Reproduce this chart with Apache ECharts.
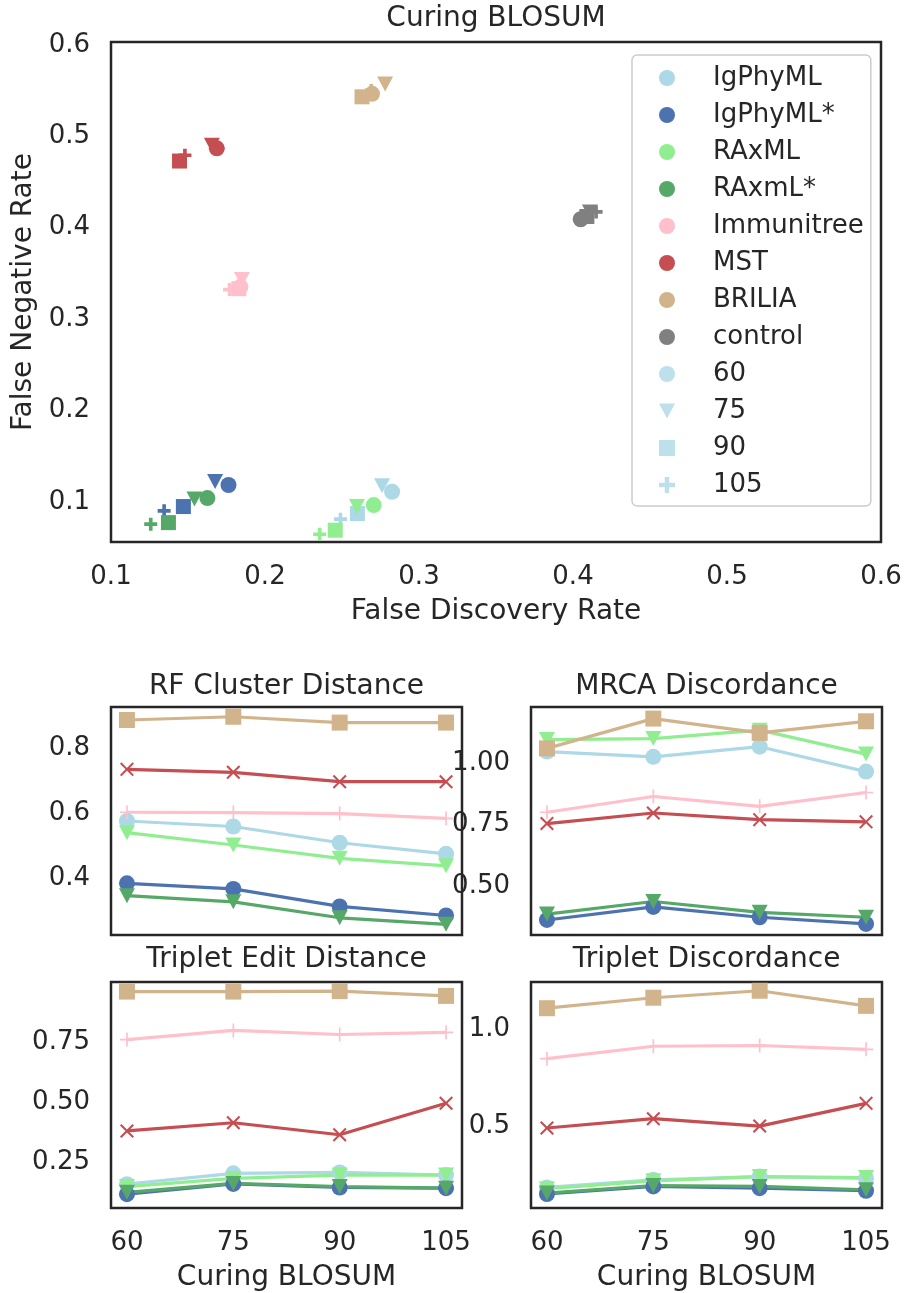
<!DOCTYPE html>
<html><head><meta charset="utf-8">
<script src="https://cdn.jsdelivr.net/npm/echarts@6/dist/echarts.min.js"></script>
<style>html,body{margin:0;padding:0;background:#fff}#c{width:907px;height:1293px}</style>
</head><body><div id="c"></div>
<script>
// ---------- data ----------
const methods = ['IgPhyML', 'IgPhyML*', 'RAxML', 'RAxmL*', 'Immunitree', 'MST', 'BRILIA', 'control'];
const colors = ['#add8e6', '#4c72b0', '#90ee90', '#55a868', '#ffc0cb', '#c44e52', '#d2b48c', '#808080'];
const curing = [60, 75, 90, 105];
const curingLabels = ['60', '75', '90', '105'];

// scatter: false discovery rate / false negative rate, one value per method
const fdr60  = [0.2825, 0.1763, 0.2706, 0.1626, 0.184, 0.1687, 0.2695, 0.405];
const fnr60  = [0.1077, 0.1151, 0.0931, 0.1008, 0.332, 0.4836, 0.5433, 0.406];
const fdr75  = [0.276, 0.1676, 0.2597, 0.1542, 0.185, 0.1655, 0.278, 0.411];
const fnr75  = [0.1143, 0.119, 0.0915, 0.0997, 0.340, 0.487, 0.554, 0.414];
const fdr90  = [0.260, 0.147, 0.2456, 0.1373, 0.183, 0.1445, 0.263, 0.409];
const fnr90  = [0.0838, 0.0915, 0.0656, 0.0739, 0.330, 0.4697, 0.540, 0.409];
const fdr105 = [0.249, 0.1345, 0.2355, 0.1258, 0.177, 0.148, 0.269, 0.415];
const fnr105 = [0.0777, 0.0868, 0.0612, 0.0722, 0.329, 0.476, 0.547, 0.414];

// small panels: rows = IgPhyML, IgPhyML*, RAxML, RAxmL*, Immunitree, MST, BRILIA
const rfCluster = [
  [0.566, 0.549, 0.499, 0.465],
  [0.374, 0.357, 0.303, 0.275],
  [0.530, 0.492, 0.451, 0.428],
  [0.336, 0.317, 0.268, 0.248],
  [0.593, 0.592, 0.589, 0.574],
  [0.725, 0.716, 0.687, 0.687],
  [0.877, 0.887, 0.869, 0.869]
];
const mrcaDiscordance = [
  [1.034, 1.013, 1.054, 0.953],
  [0.351, 0.404, 0.362, 0.335],
  [1.083, 1.087, 1.121, 1.024],
  [0.375, 0.426, 0.382, 0.362],
  [0.788, 0.852, 0.812, 0.868],
  [0.742, 0.785, 0.758, 0.749],
  [1.047, 1.168, 1.110, 1.157]
];
const tripletEdit = [
  [0.147, 0.192, 0.196, 0.185],
  [0.105, 0.148, 0.133, 0.130],
  [0.137, 0.171, 0.185, 0.185],
  [0.113, 0.150, 0.137, 0.130],
  [0.750, 0.788, 0.771, 0.780],
  [0.369, 0.403, 0.353, 0.484],
  [0.950, 0.950, 0.952, 0.932]
];
const tripletDiscordance = [
  [0.172, 0.211, 0.228, 0.219],
  [0.138, 0.177, 0.168, 0.155],
  [0.165, 0.206, 0.228, 0.223],
  [0.143, 0.182, 0.177, 0.160],
  [0.835, 0.899, 0.903, 0.883],
  [0.478, 0.526, 0.488, 0.605],
  [1.095, 1.149, 1.185, 1.107]
];

const mainXTicks = [0.1, 0.2, 0.3, 0.4, 0.5, 0.6];
const mainYTicks = [0.1, 0.2, 0.3, 0.4, 0.5, 0.6];
const rfTicks = [0.4, 0.6, 0.8];
const mrcaTicks = [0.5, 0.75, 1.0];
const tedTicks = [0.25, 0.5, 0.75];
const tdTicks = [0.5, 1.0];

// ---------- styles ----------
const FONT = 'DejaVu Sans';
const TXT = '#262626';
const TRI = 'path://M0,0L10,0L5,9.4Z';
const PLUS_THICK = 'path://M3.6,0H6.4V3.6H10V6.4H6.4V10H3.6V6.4H0V3.6H3.6Z';
const PLUS_THIN = 'path://M4.4,0H5.6V4.4H10V5.6H5.6V10H4.4V5.6H0V4.4H4.4Z';
const a = 1.05;
const CROSS = 'path://M' + a + ',0L5,' + (5 - a) + 'L' + (10 - a) + ',0L10,' + a + 'L' + (5 + a) + ',5L10,' + (10 - a) +
  'L' + (10 - a) + ',10L5,' + (5 + a) + 'L' + a + ',10L0,' + (10 - a) + 'L' + (5 - a) + ',5L0,' + a + 'Z';

const lineSymbols = ['circle', 'circle', TRI, TRI, PLUS_THIN, CROSS, 'rect'];
const lineSizes = [16, 16, [16, 15], [16, 15], 14, 14, 16];

const series = [];
methods.forEach((m, i) => {
  series.push({
    type: 'scatter', name: m, xAxisIndex: 0, yAxisIndex: 0,
    itemStyle: { color: colors[i], opacity: 1 },
    data: [
      { value: [fdr60[i], fnr60[i]], symbol: 'circle', symbolSize: 16 },
      { value: [fdr75[i], fnr75[i]], symbol: TRI, symbolSize: [16, 15] },
      { value: [fdr90[i], fnr90[i]], symbol: 'rect', symbolSize: 15 },
      { value: [fdr105[i], fnr105[i]], symbol: PLUS_THICK, symbolSize: 13 }
    ]
  });
});
curingLabels.forEach(c => {
  series.push({ type: 'scatter', name: c, xAxisIndex: 0, yAxisIndex: 0, data: [], itemStyle: { color: '#add8e6' } });
});

const panels = [rfCluster, mrcaDiscordance, tripletEdit, tripletDiscordance];
panels.forEach((tbl, p) => {
  tbl.forEach((vals, i) => {
    series.push({
      type: 'line', name: 'p' + p + '-' + methods[i], xAxisIndex: p + 1, yAxisIndex: p + 1,
      data: curing.map((x, k) => [x, vals[k]]),
      symbol: lineSymbols[i], symbolSize: lineSizes[i], showSymbol: true,
      lineStyle: { width: 3.2, color: colors[i] },
      itemStyle: { color: colors[i], borderWidth: 0 },
      emphasis: { disabled: true }
    });
  });
});

const gridBase = { show: true, borderColor: TXT, borderWidth: 2.5, backgroundColor: 'transparent' };
const grids = [
  Object.assign({ left: 111, top: 42, width: 770, height: 500 }, gridBase),
  Object.assign({ left: 111, top: 707, width: 351, height: 228 }, gridBase),
  Object.assign({ left: 531, top: 707, width: 351, height: 228 }, gridBase),
  Object.assign({ left: 111, top: 982, width: 351, height: 227 }, gridBase),
  Object.assign({ left: 531, top: 982, width: 351, height: 227 }, gridBase)
];

const lbl = (extra) => Object.assign({ color: TXT, fontSize: 26, fontFamily: FONT }, extra);
const nameStyle = { color: TXT, fontSize: 28, fontFamily: FONT };
const yRich = { t: { color: TXT, fontSize: 26, fontFamily: FONT, padding: [6, 0, 0, 0] } };

const xAxes = [
  { type: 'value', gridIndex: 0, min: 0.1, max: 0.6, interval: 0.1,
    axisLine: { show: false }, axisTick: { show: false }, splitLine: { show: false },
    axisLabel: lbl({ margin: 22, formatter: v => v.toFixed(1) }),
    name: 'False Discovery Rate', nameLocation: 'middle', nameGap: 56, nameTextStyle: nameStyle }
];
for (let p = 0; p < 4; p++) {
  const bottom = p >= 2;
  xAxes.push({
    type: 'value', gridIndex: p + 1, min: 57.75, max: 107.25,
    axisLine: { show: false }, axisTick: { show: false }, splitLine: { show: false },
    axisLabel: lbl({ show: bottom, margin: 22, customValues: curing, formatter: v => String(v) }),
    name: bottom ? 'Curing BLOSUM' : '', nameLocation: 'middle', nameGap: 56, nameTextStyle: nameStyle
  });
}
const yAxes = [
  { type: 'value', gridIndex: 0, min: 0.0527, max: 0.6,
    axisLine: { show: false }, axisTick: { show: false }, splitLine: { show: false },
    axisLabel: lbl({ margin: 21, customValues: mainYTicks, formatter: v => '{t|' + v.toFixed(1) + '}', rich: yRich }),
    name: 'False Negative Rate', nameLocation: 'middle', nameGap: 61, nameTextStyle: nameStyle }
];
const yRanges = [[0.215, 0.917], [0.290, 1.215], [0.0475, 0.990], [0.066, 1.230]];
const yTicks = [rfTicks, mrcaTicks, tedTicks, tdTicks];
const yDigits = [1, 2, 2, 1];
for (let p = 0; p < 4; p++) {
  yAxes.push({
    type: 'value', gridIndex: p + 1, min: yRanges[p][0], max: yRanges[p][1],
    axisLine: { show: false }, axisTick: { show: false }, splitLine: { show: false },
    axisLabel: lbl({ margin: 21, customValues: yTicks[p], formatter: (d => v => '{t|' + v.toFixed(d) + '}')(yDigits[p]), rich: yRich })
  });
}

const legendData = methods.map(m => ({ name: m, icon: 'circle' })).concat([
  { name: '60', icon: 'circle' },
  { name: '75', icon: TRI },
  { name: '90', icon: 'rect' },
  { name: '105', icon: PLUS_THICK }
]);

const titleText = (t, x, y) => ({
  type: 'text', x: x, y: y,
  style: { text: t, fill: TXT, fontSize: 28, fontFamily: FONT, align: 'center', verticalAlign: 'middle', textAlign: 'center', textVerticalAlign: 'middle' }
});

const chart = echarts.init(document.getElementById('c'), null, { renderer: 'canvas' });
chart.setOption({
  animation: false,
  backgroundColor: '#ffffff',
  grid: grids,
  xAxis: xAxes,
  yAxis: yAxes,
  legend: {
    orient: 'vertical', left: 632, top: 55,
    data: legendData,
    itemWidth: 16, itemHeight: 16, itemGap: 11,
    padding: [10, 7, 8, 27],
    backgroundColor: '#ffffff', borderColor: '#cccccc', borderWidth: 1.5, borderRadius: 5,
    selectedMode: false,
    textStyle: { color: TXT, fontSize: 26, fontFamily: FONT, lineHeight: 26, padding: [0, 0, 0, 33] }
  },
  graphic: [
    titleText('Curing BLOSUM', 496, 19),
    titleText('RF Cluster Distance', 286.5, 687),
    titleText('MRCA Discordance', 706.5, 687),
    titleText('Triplet Edit Distance', 286.5, 960),
    titleText('Triplet Discordance', 706.5, 960)
  ],
  series: series
});
</script>
</body></html>
